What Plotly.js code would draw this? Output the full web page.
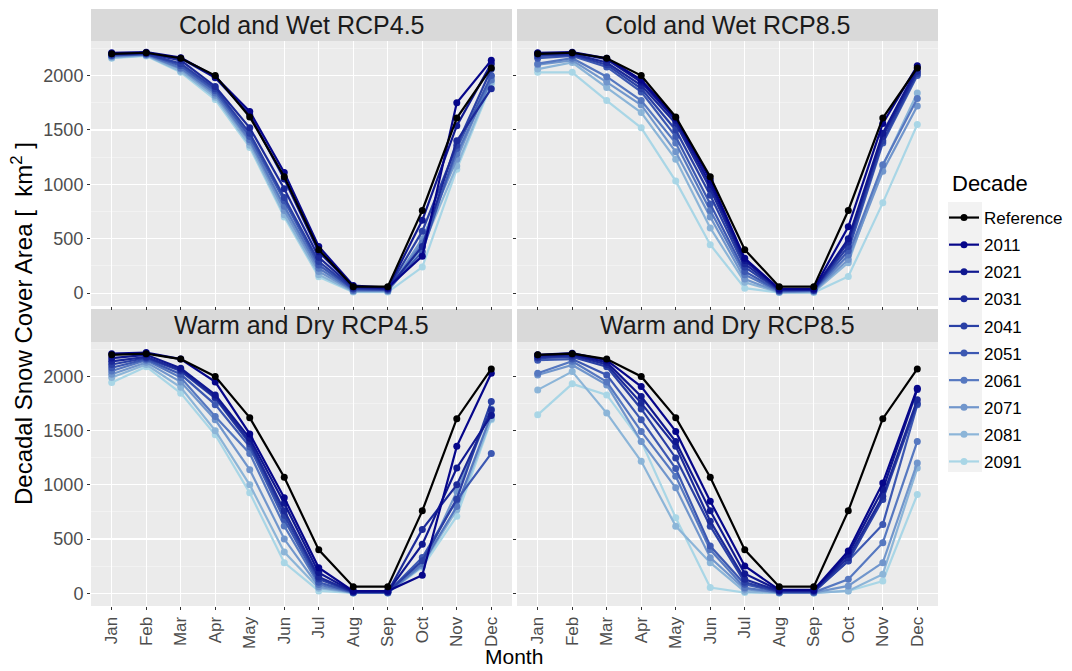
<!DOCTYPE html>
<html><head><meta charset="utf-8">
<script src="https://cdn.plot.ly/plotly-3.0.1.min.js"></script>
<style>body{margin:0;background:#fff}#chart{width:1072px;height:671px}</style>
</head><body><div id="chart"></div>
<script>
const months = ["Jan","Feb","Mar","Apr","May","Jun","Jul","Aug","Sep","Oct","Nov","Dec"];
const decades = ["Reference","2011","2021","2031","2041","2051","2061","2071","2081","2091"];
const panelTitles = ["Cold and Wet RCP4.5","Cold and Wet RCP8.5","Warm and Dry RCP4.5","Warm and Dry RCP8.5"];

const reference = [2200,2210,2160,2000,1620,1070,400,60,60,760,1610,2070];

const coldWet45 = {
  "2011":[2210,2215,2165,1990,1670,1110,430,70,50,340,1750,2140],
  "2021":[2200,2210,2160,1980,1640,1050,380,60,45,670,1540,2110],
  "2031":[2200,2205,2140,1900,1520,960,330,50,40,430,1400,1880],
  "2041":[2190,2200,2110,1880,1470,880,290,40,35,570,1360,2060],
  "2051":[2185,2200,2090,1860,1440,850,260,35,30,380,1330,2000],
  "2061":[2180,2195,2070,1840,1410,800,230,25,25,460,1280,1960],
  "2071":[2175,2190,2060,1820,1390,760,200,20,20,500,1230,1990],
  "2081":[2165,2185,2040,1800,1360,720,170,15,15,420,1170,1940],
  "2091":[2160,2180,2030,1780,1340,700,150,10,10,240,1140,1920]
};
const coldWet85 = {
  "2011":[2210,2215,2160,1960,1610,1040,320,40,40,610,1560,2090],
  "2021":[2205,2210,2150,1940,1590,1000,300,35,35,500,1470,2070],
  "2031":[2195,2200,2120,1910,1560,960,270,30,30,470,1440,2040],
  "2041":[2180,2190,2100,1880,1500,900,240,25,30,430,1400,2020],
  "2051":[2160,2180,2080,1850,1440,820,200,20,25,390,1380,2000],
  "2061":[2110,2160,1990,1770,1380,760,170,15,20,350,1180,1790],
  "2071":[2100,2140,1940,1730,1300,700,130,10,15,310,1120,1720],
  "2081":[2060,2120,1890,1660,1230,600,100,8,10,280,1170,1840],
  "2091":[2030,2030,1770,1520,1030,445,46,5,5,153,830,1550]
};
const warmDry45 = {
  "2011":[2210,2220,2160,1950,1470,880,236,20,20,166,1355,2030],
  "2021":[2170,2200,2075,1830,1430,830,190,15,15,451,1156,1640],
  "2031":[2140,2180,2060,1810,1400,760,150,12,12,589,1000,1690],
  "2041":[2110,2170,2050,1800,1380,720,130,10,10,300,870,1770],
  "2051":[2080,2160,2020,1740,1350,680,100,8,8,330,860,1290],
  "2061":[2050,2150,1990,1630,1290,620,80,5,5,270,800,1650],
  "2071":[2020,2130,1950,1600,1140,500,60,5,5,250,940,1700],
  "2081":[1990,2110,1900,1500,1000,380,45,3,3,260,770,1610],
  "2091":[1944,2090,1846,1462,926,282,21,2,2,240,711,1600]
};
const warmDry85 = {
  "2011":[2200,2215,2150,1907,1493,849,251,30,30,389,1018,1892],
  "2021":[2195,2205,2130,1815,1400,760,180,25,25,359,957,1880],
  "2031":[2180,2195,2110,1754,1355,665,129,20,20,328,895,1784],
  "2041":[2170,2180,2090,1700,1248,619,100,15,15,297,865,1750],
  "2051":[2150,2160,2014,1600,1150,435,83,10,10,300,635,1738],
  "2061":[2030,2140,1950,1493,1079,400,50,8,8,129,466,1401],
  "2071":[2014,2106,1922,1401,972,328,37,5,5,67,282,1202],
  "2081":[1876,2045,1662,1217,619,282,15,3,3,21,175,1156],
  "2091":[1646,1932,1830,1401,696,52,6,2,2,21,113,911]
};
const panelData = [coldWet45, coldWet85, warmDry45, warmDry85];

const colors = {
  "Reference":"#000000",
  "2011":"#06068A","2021":"#101890","2031":"#1C2A99","2041":"#2A40A5",
  "2051":"#3C58B2","2061":"#5678C0","2071":"#7196CC","2081":"#8CB5D8","2091":"#A9D6E6"
};

const FONT='Liberation Sans, Arial, sans-serif';
const traces = [];
panelData.forEach((pd, p) => {
  const xa = p === 0 ? 'x' : 'x' + (p+1);
  const ya = p === 0 ? 'y' : 'y' + (p+1);
  decades.slice().reverse().forEach(d => {
    const vals = d === "Reference" ? reference : pd[d];
    traces.push({
      type:'scatter', mode:'lines+markers', x: months, y: vals,
      xaxis: xa, yaxis: ya, name: d, legendgroup: d, showlegend: p === 0,
      legendrank: decades.indexOf(d) + 1,
      line:{color:colors[d], width:2.2}, marker:{color:colors[d], size:7},
      hoverinfo:'skip'
    });
  });
});

const W=1072, H=671;
const px = v => v / W, py = v => 1 - v / H;
const xDomL=[px(91),px(512)], xDomR=[px(517),px(938)];
const yDomT=[py(306),py(41)], yDomB=[py(606),py(342)];
const yRange=[-118,2318];
const xRange=[-0.6,11.6];
const tickFont={family:FONT, size:18, color:'#4D4D4D'};
const xTickFont={family:FONT, size:17, color:'#4D4D4D'};

function xaxisDef(dom, anchor, showLabels){
  return {domain:dom, anchor:anchor, type:'category', categoryorder:'array', categoryarray:months,
    range:xRange, showgrid:true, gridcolor:'#FFFFFF', gridwidth:1.1, zeroline:false,
    showline:false, ticks:'outside', ticklen:3, tickcolor:'#333333', tickwidth:1,
    showticklabels:showLabels, tickangle:-90, tickfont:xTickFont, fixedrange:true};
}
function yaxisDef(dom, anchor, showLabels){
  return {domain:dom, anchor:anchor, range:yRange, tickvals:[0,500,1000,1500,2000],
    showgrid:true, gridcolor:'#FFFFFF', gridwidth:1.1, zeroline:false, showline:false,
    ticks:'outside', ticklen:3, tickcolor:'#333333', tickwidth:1,
    showticklabels:showLabels, tickfont:tickFont, fixedrange:true,
    minor:{tickvals:[250,750,1250,1750,2250], showgrid:true, gridcolor:'#F7F7F7', gridwidth:0.6, ticks:''}};
}

const shapes=[];
const annotations=[];
const stripDefs=[
  {x:xDomL, y:[py(41),py(9)]},{x:xDomR, y:[py(41),py(9)]},
  {x:xDomL, y:[py(342),py(309)]},{x:xDomR, y:[py(342),py(309)]}
];
stripDefs.forEach((s,i)=>{
  shapes.push({type:'rect', xref:'paper', yref:'paper', x0:s.x[0], x1:s.x[1], y0:s.y[0], y1:s.y[1],
    fillcolor:'#D9D9D9', line:{width:0}, layer:'below'});
  annotations.push({xref:'paper', yref:'paper', x:(s.x[0]+s.x[1])/2, y:(s.y[0]+s.y[1])/2,
    text:panelTitles[i], showarrow:false, xanchor:'center', yanchor:'middle',
    font:{family:FONT, size:25, color:'#1A1A1A'}});
});
[[xDomL,yDomT],[xDomR,yDomT],[xDomL,yDomB],[xDomR,yDomB]].forEach(([xd,yd])=>{
  shapes.push({type:'rect', xref:'paper', yref:'paper', x0:xd[0], x1:xd[1], y0:yd[0], y1:yd[1],
    fillcolor:'#EBEBEB', line:{width:0}, layer:'below'});
});
shapes.push({type:'rect', xref:'paper', yref:'paper', x0:px(948), x1:px(982), y0:py(472), y1:py(202),
  fillcolor:'#F2F2F2', line:{width:0}, layer:'below'});

annotations.push({xref:'paper', yref:'paper', x:px(514), y:py(670), text:'Month', showarrow:false,
  xanchor:'center', yanchor:'bottom', font:{family:FONT, size:21, color:'#000'}});
annotations.push({xref:'paper', yref:'paper', x:px(22), y:py(324), text:'Decadal Snow Cover Area [  km<sup>2</sup> ]',
  textangle:-90, showarrow:false, xanchor:'center', yanchor:'middle',
  font:{family:FONT, size:24, color:'#000'}});
annotations.push({xref:'paper', yref:'paper', x:px(950), y:py(183), text:'Decade', showarrow:false,
  xanchor:'left', yanchor:'middle', font:{family:FONT, size:22, color:'#000'}});

const layout={
  width:W, height:H, margin:{l:0,r:0,t:0,b:0},
  paper_bgcolor:'#FFFFFF', plot_bgcolor:'rgba(0,0,0,0)',
  showlegend:true,
  legend:{x:px(944), y:py(200), xanchor:'left', yanchor:'top', bgcolor:'rgba(0,0,0,0)',
    font:{family:FONT, size:17, color:'#000'},
    traceorder:'grouped', tracegroupgap:2, itemwidth:30},
  xaxis:xaxisDef(xDomL,'y',false),
  xaxis2:xaxisDef(xDomR,'y2',false),
  xaxis3:xaxisDef(xDomL,'y3',true),
  xaxis4:xaxisDef(xDomR,'y4',true),
  yaxis:yaxisDef(yDomT,'x',true),
  yaxis2:yaxisDef(yDomT,'x2',false),
  yaxis3:yaxisDef(yDomB,'x3',true),
  yaxis4:yaxisDef(yDomB,'x4',false),
  shapes:shapes, annotations:annotations
};
Plotly.newPlot('chart', traces, layout, {staticPlot:true, displayModeBar:false});
</script></body></html>
